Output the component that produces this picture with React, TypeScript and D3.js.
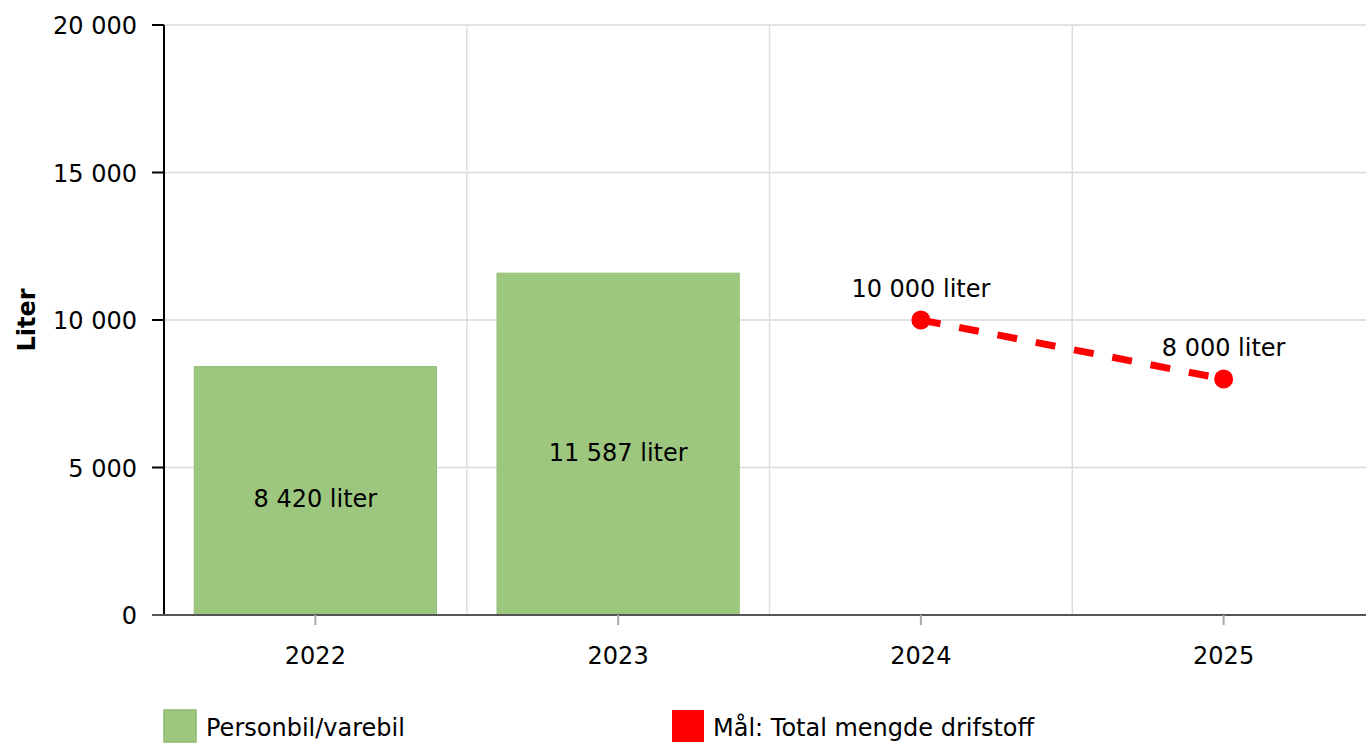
import React from "react";
import * as d3 from "d3";

const categories = ["2022", "2023", "2024", "2025"];
const barCategories = ["2022", "2023"];
const barValues = [8420, 11587];
const targetCategories = ["2024", "2025"];
const targetValues = [10000, 8000];
const yTicks = [0, 5000, 10000, 15000, 20000];
const barSeriesName = "Personbil/varebil";
const targetSeriesName = "Mål: Total mengde drifstoff";
const yTitle = "Liter";

const W = 1367;
const H = 743;
const M = { left: 164, right: 1375, clipRight: 1366, top: 25, bottom: 615 };
const FONT = "'DejaVu Sans', Verdana, sans-serif";
const FS = 24;

const fmt = (v: number) => d3.format(",")(v).replace(/,/g, " ");

export default function App() {
  const x = d3.scaleBand<string>().domain(categories).range([M.left, M.right]).paddingInner(0).paddingOuter(0);
  const y = d3.scaleLinear().domain([0, 20000]).range([M.bottom, M.top]);
  const bw = x.bandwidth();
  const barPad = bw * 0.1;
  const line = d3
    .line<number>()
    .x((_, i) => (x(targetCategories[i]) as number) + bw / 2)
    .y((d) => y(d));

  return (
    <svg width={W} height={H} style={{ position: "absolute", left: 0, top: 0, display: "block" }} fontFamily={FONT}>
      {/* horizontal grid */}
      {yTicks.map((t) => (
        <line key={"hg" + t} x1={M.left} x2={M.clipRight} y1={y(t)} y2={y(t)} stroke="#d9d9d9" strokeWidth={1.5} />
      ))}
      {/* vertical grid at band boundaries */}
      {categories.slice(1).map((c) => (
        <line key={"vg" + c} x1={x(c)} x2={x(c)} y1={M.top} y2={M.bottom} stroke="#dedede" strokeWidth={1.5} />
      ))}
      {/* bars */}
      {barCategories.map((c, i) => (
        <rect
          key={"b" + c}
          x={(x(c) as number) + barPad}
          y={y(barValues[i])}
          width={bw - 2 * barPad}
          height={y(0) - y(barValues[i])}
          fill="#9dc67f"
          stroke="#92bd74"
          strokeWidth={1}
        />
      ))}
      {barCategories.map((c, i) => (
        <text
          key={"bl" + c}
          x={(x(c) as number) + bw / 2}
          y={y(barValues[i] / 2) + 16.5}
          textAnchor="middle"
          fontSize={FS}
          fill="#000"
        >
          {fmt(barValues[i]) + " liter"}
        </text>
      ))}
      {/* target line */}
      <path d={line(targetValues) || ""} fill="none" stroke="#ff0000" strokeWidth={7} strokeDasharray="20 19" />
      {targetCategories.map((c, i) => (
        <g key={"t" + c}>
          <circle cx={(x(c) as number) + bw / 2} cy={y(targetValues[i])} r={9.5} fill="#ff0000" />
          <text
            x={(x(c) as number) + bw / 2}
            y={y(targetValues[i]) - 23}
            textAnchor="middle"
            fontSize={FS}
            fill="#000"
          >
            {fmt(targetValues[i]) + " liter"}
          </text>
        </g>
      ))}
      {/* y axis */}
      <line x1={M.left} x2={M.left} y1={M.top} y2={M.bottom} stroke="#000" strokeWidth={2} />
      {yTicks.map((t) => (
        <g key={"yt" + t}>
          <line x1={M.left - 12} x2={M.left} y1={y(t)} y2={y(t)} stroke="#000" strokeWidth={2} />
          <text x={M.left - 27} y={y(t) + 9} textAnchor="end" fontSize={FS} fill="#000">
            {fmt(t)}
          </text>
        </g>
      ))}
      {/* x axis */}
      <line x1={M.left - 12} x2={M.clipRight} y1={M.bottom} y2={M.bottom} stroke="#555" strokeWidth={2} />
      {categories.map((c) => (
        <g key={"xt" + c}>
          <line
            x1={(x(c) as number) + bw / 2}
            x2={(x(c) as number) + bw / 2}
            y1={M.bottom}
            y2={M.bottom + 10}
            stroke="#aaa"
            strokeWidth={2}
          />
          <text x={(x(c) as number) + bw / 2} y={M.bottom + 49} textAnchor="middle" fontSize={FS} fill="#000">
            {c}
          </text>
        </g>
      ))}
      {/* y title */}
      <text
        transform={`translate(35,${(M.top + M.bottom) / 2}) rotate(-90)`}
        textAnchor="middle"
        fontSize={FS}
        fontWeight="bold"
        fill="#000"
      >
        {yTitle}
      </text>
      {/* legend */}
      <rect x={164} y={710} width={32} height={32} fill="#9dc67f" stroke="#8fbb70" strokeWidth={1.5} />
      <text x={206} y={736} fontSize={FS} fill="#000">
        {barSeriesName}
      </text>
      <rect x={672} y={710} width={32} height={32} fill="#ff0000" />
      <text x={713} y={736} fontSize={FS} fill="#000">
        {targetSeriesName}
      </text>
    </svg>
  );
}
